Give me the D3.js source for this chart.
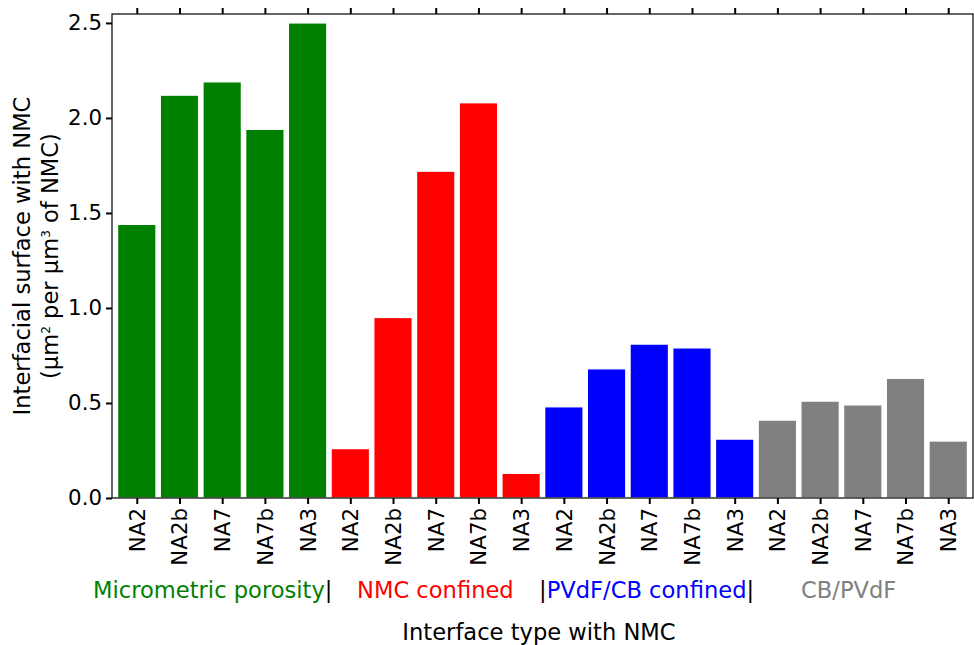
<!DOCTYPE html>
<html><head><meta charset="utf-8">
<script src="https://cdn.jsdelivr.net/npm/d3@7"></script>
<style>body{margin:0;background:#fff}svg{display:block;font-family:"DejaVu Sans",sans-serif}</style>
</head><body><svg id="c" width="974" height="645"></svg>
<script>
const subLabels = ["NA2","NA2b","NA7","NA7b","NA3"];
const groups = ["Micrometric porosity","NMC confined","PVdF/CB confined","CB/PVdF"];
const groupColors = ["#008000","#ff0000","#0000ff","#808080"];
const microValues = [1.44, 2.12, 2.19, 1.94, 2.50];
const nmcValues = [0.26, 0.95, 1.72, 2.08, 0.13];
const pvdfCbValues = [0.48, 0.68, 0.81, 0.79, 0.31];
const cbPvdfValues = [0.41, 0.51, 0.49, 0.63, 0.30];
const yTicks = [0, 0.5, 1.0, 1.5, 2.0, 2.5];

const seriesVals = [microValues, nmcValues, pvdfCbValues, cbPvdfValues];
const data = [];
seriesVals.forEach((vals, g) => vals.forEach((v, i) => data.push({g, label: subLabels[i], v, idx: data.length})));

const svg = d3.select("#c");
const L = 112, R = 973, T = 14, B = 498;
const x = d3.scaleLinear().domain([-0.58, 19.58]).range([L, R]);
const y = d3.scaleLinear().domain([0, 2.547]).range([B, T]);
const bw = x(0.9) - x(0);
const fs = 21.33;
const lfs = 22.6;

svg.append("g").selectAll("rect").data(data).join("rect")
  .attr("x", d => x(d.idx) - bw/2).attr("width", bw)
  .attr("y", d => y(d.v)).attr("height", d => y(0) - y(d.v))
  .attr("fill", d => groupColors[d.g]).attr("stroke", "#fff").attr("stroke-width", 1.3);

// frame
svg.append("rect").attr("x", L).attr("y", T).attr("width", R - L).attr("height", B - T)
  .attr("fill", "none").attr("stroke", "#000").attr("stroke-width", 1.2);

const idxs = data.map(d => d.idx);
// bottom axis
const xb = svg.append("g").attr("transform", `translate(0,${B})`)
  .call(d3.axisBottom(x).tickValues(idxs).tickSize(6).tickPadding(4).tickFormat(i => data[i].label));
xb.select(".domain").remove();
xb.selectAll(".tick line").attr("stroke-width", 2);
xb.selectAll(".tick text").attr("font-size", fs).attr("font-family", "DejaVu Sans")
  .attr("transform", "rotate(-90)").attr("text-anchor", "end")
  .attr("x", -10).attr("y", 0).attr("dy", "0.35em").attr("fill", "#000");
// top axis
const xt = svg.append("g").attr("transform", `translate(0,${T})`)
  .call(d3.axisTop(x).tickValues(idxs).tickSize(6).tickFormat(""));
xt.select(".domain").remove();
xt.selectAll(".tick line").attr("stroke-width", 2);
// left axis
const yl = svg.append("g").attr("transform", `translate(${L},0)`)
  .call(d3.axisLeft(y).tickValues(yTicks).tickSize(6).tickPadding(4).tickFormat(d3.format(".1f")));
yl.select(".domain").remove();
yl.selectAll(".tick line").attr("stroke-width", 2);
yl.selectAll(".tick text").attr("font-size", fs).attr("font-family", "DejaVu Sans").attr("fill", "#000");

// y label
const cy = (T + B) / 2;
svg.append("text").attr("transform", `translate(30,${cy}) rotate(-90)`).attr("text-anchor", "middle")
  .attr("font-size", lfs).text("Interfacial surface with NMC");
const yl2 = svg.append("text").attr("transform", `translate(58,${cy}) rotate(-90)`).attr("text-anchor", "middle")
  .attr("font-size", lfs);
yl2.append("tspan").text("(µm");
yl2.append("tspan").attr("font-size", 12).attr("dy", -8).text("2");
yl2.append("tspan").attr("dy", 8).text(" per µm");
yl2.append("tspan").attr("font-size", 12).attr("dy", -8).text("3");
yl2.append("tspan").attr("dy", 8).text(" of NMC)");

// group labels
const gy = 598;
const gl = [
  {x: 93, parts: [[groups[0], groupColors[0]], ["|", "#000"]]},
  {x: 357, parts: [[groups[1], groupColors[1]]]},
  {x: 539, parts: [["|", "#000"], [groups[2], groupColors[2]], ["|", "#000"]]},
  {x: 801, parts: [[groups[3], groupColors[3]]]}
];
gl.forEach(g => {
  const t = svg.append("text").attr("x", g.x).attr("y", gy).attr("font-size", lfs);
  g.parts.forEach(p => t.append("tspan").attr("fill", p[1]).text(p[0]));
});

svg.append("text").attr("x", 539).attr("y", 640).attr("text-anchor", "middle")
  .attr("font-size", lfs).text("Interface type with NMC");
</script></body></html>
